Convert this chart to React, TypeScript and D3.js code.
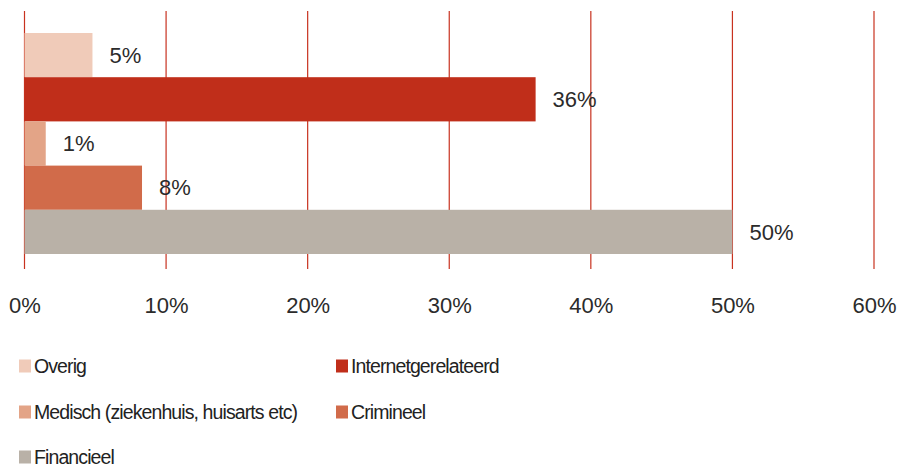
import { useEffect, useRef } from 'react';
import * as d3 from 'd3';

const categories = ['Overig', 'Internetgerelateerd', 'Medisch (ziekenhuis, huisarts etc)', 'Crimineel', 'Financieel'];
const values = [4.8, 36.1, 1.5, 8.3, 50.0];
const valueLabels = ['5%', '36%', '1%', '8%', '50%'];
const colors = ['#f0cbb9', '#c02e1a', '#e3a487', '#d16b4a', '#b9b1a7'];
const xTicks = [0, 10, 20, 30, 40, 50, 60];

const W = 897;
const H = 468;
const FONT = "'Liberation Sans', Arial, Helvetica, sans-serif";

export default function App() {
  const ref = useRef<SVGSVGElement>(null);

  useEffect(() => {
    const svg = d3.select(ref.current);
    svg.selectAll('*').remove();

    const x = d3.scaleLinear().domain([0, 60]).range([24.5, 874]);
    const y = d3.scaleBand<string>()
      .domain(categories)
      .range([33, 254])
      .paddingInner(0)
      .paddingOuter(0);

    // Grid lines
    svg.append('g')
      .selectAll('line')
      .data(xTicks)
      .join('line')
      .attr('x1', (d) => x(d)).attr('x2', (d) => x(d))
      .attr('y1', 11).attr('y2', 269)
      .attr('stroke', '#c8321f')
      .attr('stroke-width', 1.2);

    // Bars
    svg.append('g')
      .selectAll('rect')
      .data(categories)
      .join('rect')
      .attr('x', x(0))
      .attr('y', (d) => y(d)!)
      .attr('width', (_, i) => x(values[i]) - x(0))
      .attr('height', y.bandwidth())
      .attr('fill', (_, i) => colors[i]);

    // Value labels
    svg.append('g')
      .selectAll('text')
      .data(categories)
      .join('text')
      .attr('x', (_, i) => x(values[i]) + 17)
      .attr('y', (d) => y(d)! + y.bandwidth() / 2)
      .attr('dy', '0.35em')
      .attr('fill', '#2b2b2b')
      .attr('font-size', 22)
      .attr('font-family', FONT)
      .text((_, i) => valueLabels[i]);

    // X axis labels
    svg.append('g')
      .attr('transform', 'translate(0,305)')
      .call(
        d3.axisBottom(x)
          .tickValues(xTicks)
          .tickSize(0)
          .tickPadding(0)
          .tickFormat((d) => `${d}%`)
      )
      .call((g) => g.select('.domain').remove())
      .selectAll('text')
      .attr('dy', '0.35em')
      .attr('fill', '#2b2b2b')
      .attr('font-size', 22)
      .attr('font-family', FONT);

    // Legend
    const legendPos = [
      [19, 366], [336, 366],
      [19, 412], [336, 412],
      [19, 457],
    ];
    const lg = svg.append('g')
      .selectAll('g')
      .data(categories)
      .join('g')
      .attr('transform', (_, i) => `translate(${legendPos[i][0]},${legendPos[i][1]})`);
    lg.append('rect')
      .attr('x', 0).attr('y', -6.5)
      .attr('width', 12).attr('height', 13)
      .attr('fill', (_, i) => colors[i]);
    lg.append('text')
      .attr('x', 15)
      .attr('dy', '0.35em')
      .attr('fill', '#222')
      .attr('font-size', 19.5)
      .attr('letter-spacing', -0.9)
      .attr('font-family', FONT)
      .text((d) => d);
  }, []);

  return (
    <svg
      ref={ref}
      width={W}
      height={H}
      style={{ position: 'absolute', left: 0, top: 0, background: '#fff' }}
    />
  );
}
